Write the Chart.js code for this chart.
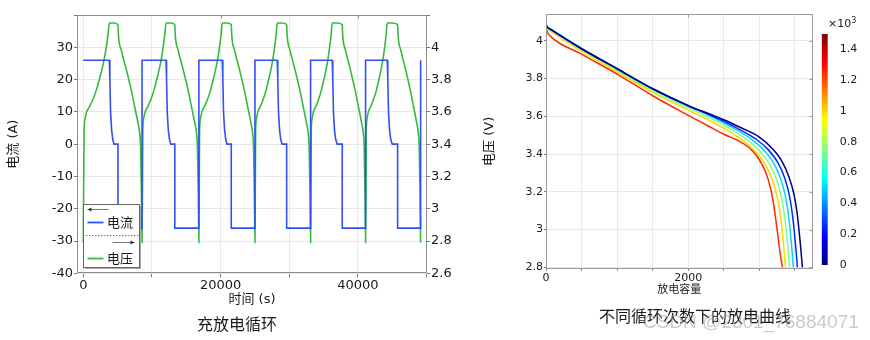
<!DOCTYPE html>
<html>
<head>
<meta charset="utf-8">
<script src="https://cdn.jsdelivr.net/npm/chart.js@4.4.1/dist/chart.umd.min.js"></script>
<style>
  body { margin: 0; width: 870px; height: 340px; background: #fff; position: relative; overflow: hidden; }
  canvas { position: absolute; top: 0; }
  #cycleChart { left: 0; }
  #dischargeChart { left: 440px; }
  #colorBar { left: 815px; }
  .caption { position: absolute; font-family: 'Noto Sans CJK SC', sans-serif; font-size: 16px; line-height: 16px;
             color: #1a1a1a; transform: translate(-50%, -50%); white-space: nowrap; }
  #cbUnit { position: absolute; left: 828px; top: 18px; font: 11px/11px 'DejaVu Sans', sans-serif; color: #222; }
  #cbUnit sup { font-size: 8px; vertical-align: 4px; line-height: 0; }
  #mark { position: absolute; left: 643px; top: 311px; font: 19px/22px 'Liberation Sans', sans-serif;
          color: rgba(150, 150, 150, 0.5); white-space: nowrap; }
</style>
</head>
<body>
<canvas id="cycleChart" width="470" height="340"></canvas>
<canvas id="dischargeChart" width="380" height="340"></canvas>
<canvas id="colorBar" width="55" height="300"></canvas>
<div class="caption" style="left:237px; top:323px">充放电循环</div>
<div class="caption" style="left:695px; top:315px">不同循环次数下的放电曲线</div>
<div id="cbUnit">×10<sup>3</sup></div>
<div id="mark">CSDN @2301_76884071</div>

<script>
// ---- charge / discharge cycling: current (A) vs time (s)
const timeA = [0,
  3790, 3870, 3970, 4120, 4290, 4470, 5050, 5050, 8560, 8560,
  12050, 12130, 12230, 12380, 12550, 12730, 13330, 13330, 16840, 16840,
  20250, 20330, 20430, 20580, 20750, 20930, 21560, 21560, 25010, 25010,
  28260, 28340, 28440, 28590, 28760, 28960, 29630, 29630, 33120, 33120,
  36270, 36350, 36450, 36600, 36770, 36980, 37730, 37730, 41130, 41130,
  44290, 44370, 44470, 44620, 44790, 45020, 45800, 45800, 49150, 49150];
const currentA = [26,
  26, 20, 10, 4.5, 1.5, 0, 0, -26, -26, 26,
  26, 20, 10, 4.5, 1.5, 0, 0, -26, -26, 26,
  26, 20, 10, 4.5, 1.5, 0, 0, -26, -26, 26,
  26, 20, 10, 4.5, 1.5, 0, 0, -26, -26, 26,
  26, 20, 10, 4.5, 1.5, 0, 0, -26, -26, 26,
  26, 20, 10, 4.5, 1.5, 0, 0, -26, -26, 26];

// cell voltage (V) vs time (s)
const timeV = [
  0, 110, 230, 490, 870, 1330, 1860, 2390, 2920, 3340, 3600, 3790, 4470, 5050,
  5110, 5550, 6280, 7010, 7490, 7970, 8210, 8350, 8470, 8560,
  8665, 8770, 9015, 9360, 9780, 10270, 10760, 11250, 11630, 11875, 12050, 12730, 13330,
  13390, 13830, 14560, 15290, 15770, 16250, 16490, 16630, 16750, 16840,
  16940, 17045, 17280, 17625, 18035, 18510, 18990, 19465, 19840, 20080, 20250, 20930, 21560,
  21620, 22050, 22770, 23485, 23960, 24430, 24665, 24805, 24920, 25010,
  25110, 25205, 25435, 25760, 26150, 26605, 27060, 27515, 27870, 28100, 28260, 28960, 29630,
  29690, 30125, 30855, 31580, 32055, 32530, 32770, 32910, 33030, 33120,
  33215, 33310, 33530, 33845, 34225, 34665, 35105, 35545, 35890, 36115, 36270, 36980, 37730,
  37790, 38215, 38920, 39630, 40095, 40560, 40790, 40930, 41045, 41130,
  41225, 41320, 41540, 41855, 42235, 42680, 43120, 43565, 43910, 44130, 44290, 45020, 45800,
  45857, 46277, 46973, 47670, 48128, 48586, 48815, 48948, 49063, 49150];
const voltage = [
  2.79, 3.47, 3.55, 3.60, 3.63, 3.67, 3.73, 3.81, 3.90, 4.00, 4.08, 4.15, 4.15, 4.14,
  4.08, 3.98, 3.86, 3.73, 3.63, 3.53, 3.47, 3.38, 3.10, 2.79,
  3.47, 3.55, 3.60, 3.63, 3.67, 3.73, 3.81, 3.90, 4.00, 4.08, 4.15, 4.15, 4.14,
  4.08, 3.98, 3.86, 3.73, 3.63, 3.53, 3.47, 3.38, 3.10, 2.79,
  3.47, 3.55, 3.60, 3.63, 3.67, 3.73, 3.81, 3.90, 4.00, 4.08, 4.15, 4.15, 4.14,
  4.08, 3.98, 3.86, 3.73, 3.63, 3.53, 3.47, 3.38, 3.10, 2.79,
  3.47, 3.55, 3.60, 3.63, 3.67, 3.73, 3.81, 3.90, 4.00, 4.08, 4.15, 4.15, 4.14,
  4.08, 3.98, 3.86, 3.73, 3.63, 3.53, 3.47, 3.38, 3.10, 2.79,
  3.47, 3.55, 3.60, 3.63, 3.67, 3.73, 3.81, 3.90, 4.00, 4.08, 4.15, 4.15, 4.14,
  4.08, 3.98, 3.86, 3.73, 3.63, 3.53, 3.47, 3.38, 3.10, 2.79,
  3.47, 3.55, 3.60, 3.63, 3.67, 3.73, 3.81, 3.90, 4.00, 4.08, 4.15, 4.15, 4.14,
  4.08, 3.98, 3.86, 3.73, 3.63, 3.53, 3.47, 3.38, 3.10, 2.79];

const timeTicks = [0, 10000, 20000, 30000, 40000, 50000];
const currentTicks = [-40, -30, -20, -10, 0, 10, 20, 30, 40];
const voltTicks = [2.6, 2.8, 3.0, 3.2, 3.4, 3.6, 3.8, 4.0, 4.2];

// ---- discharge curves at different cycle counts: voltage vs capacity
const cycleCounts = [0, 250, 500, 750, 1000, 1250];
const cap0 = [0, 20, 60, 500, 1000, 1500, 2000, 2300, 2500, 2750, 3000, 3180, 3320, 3415, 3485, 3530, 3562, 3585, 3605];
const v0 = [4.088, 4.072, 4.062, 3.958, 3.852, 3.746, 3.657, 3.612, 3.582, 3.538, 3.490, 3.430, 3.360, 3.280, 3.190, 3.090, 2.980, 2.890, 2.800];
const cap250 = [0, 20, 60, 500, 1000, 1500, 2000, 2300, 2500, 2700, 2950, 3120, 3260, 3355, 3420, 3463, 3495, 3517, 3535];
const v250 = [4.088, 4.072, 4.062, 3.958, 3.852, 3.746, 3.656, 3.608, 3.574, 3.535, 3.480, 3.425, 3.355, 3.275, 3.185, 3.085, 2.975, 2.885, 2.800];
const cap500 = [0, 20, 60, 500, 1000, 1500, 2000, 2300, 2500, 2650, 2900, 3070, 3205, 3300, 3365, 3408, 3440, 3460, 3478];
const v500 = [4.089, 4.074, 4.064, 3.960, 3.853, 3.746, 3.655, 3.603, 3.566, 3.535, 3.475, 3.418, 3.350, 3.270, 3.180, 3.080, 2.970, 2.885, 2.800];
const cap750 = [0, 20, 60, 500, 1000, 1500, 2000, 2300, 2500, 2620, 2850, 3020, 3150, 3245, 3310, 3355, 3387, 3407, 3425];
const v750 = [4.087, 4.068, 4.058, 3.953, 3.844, 3.737, 3.645, 3.592, 3.554, 3.528, 3.468, 3.410, 3.342, 3.262, 3.172, 3.072, 2.965, 2.880, 2.800];
const cap1000 = [0, 20, 60, 500, 1000, 1500, 2000, 2300, 2500, 2600, 2800, 2970, 3100, 3190, 3255, 3300, 3330, 3350, 3368];
const v1000 = [4.085, 4.062, 4.052, 3.945, 3.836, 3.727, 3.633, 3.578, 3.537, 3.515, 3.462, 3.402, 3.335, 3.255, 3.165, 3.065, 2.960, 2.875, 2.800];
const cap1250 = [0, 23, 56, 500, 1000, 1500, 2000, 2300, 2500, 2700, 2883, 3000, 3093, 3164, 3220, 3257, 3294, 3325];
const v1250 = [4.079, 4.044, 4.026, 3.929, 3.824, 3.709, 3.605, 3.545, 3.505, 3.472, 3.425, 3.370, 3.300, 3.210, 3.085, 2.978, 2.870, 2.800];

const capTicks = [0, 500, 1000, 1500, 2000, 2500, 3000, 3500];
const dischargeVoltTicks = [2.8, 3.0, 3.2, 3.4, 3.6, 3.8, 4.0];
const colorBarTicks = [0, 0.2, 0.4, 0.6, 0.8, 1.0, 1.2, 1.4];   // x10^3 cycles

const FONT = "'DejaVu Sans', 'Noto Sans CJK SC', sans-serif";
const CJK = "'Noto Sans CJK SC', sans-serif";
const GRID = '#e9e9e9';
const TICK = '#777';
const TEXT = '#1a1a1a';

const pts = (xs, ys) => xs.map((x, i) => ({ x, y: ys[i] }));
const fixTicks = list => s => { s.ticks = list.map(v => ({ value: v })); };
const fmt = v => String(Number(v.toFixed(1)));

// jet colormap, v in [0, 1]
function jet(v) {
  const c = k => Math.round(255 * Math.max(0, Math.min(1, 1.5 - Math.abs(4 * v - k))));
  return `rgb(${c(3)},${c(2)},${c(1)})`;
}

// box around the plot area plus a few mirrored ticks
const framePlugin = {
  id: 'frame',
  afterDatasetsDraw(chart, args, opts) {
    const { ctx, chartArea: a, scales } = chart;
    const l = Math.round(a.left) + 0.5, t = Math.round(a.top) + 0.5;
    const r = Math.round(a.right) - 0.5, b = Math.round(a.bottom) - 0.5;
    ctx.save();
    ctx.strokeStyle = opts.color || '#8c8c8c';
    ctx.lineWidth = 1;
    ctx.strokeRect(l, t, r - l, b - t);
    ctx.beginPath();
    (opts.topTicks || []).forEach(v => {
      const x = Math.round(scales.x.getPixelForValue(v)) + 0.5;
      ctx.moveTo(x, t); ctx.lineTo(x, t + 3);
    });
    (opts.rightTicks || []).forEach(v => {
      const y = Math.round(scales.y.getPixelForValue(v)) + 0.5;
      ctx.moveTo(r, y); ctx.lineTo(r - 3, y);
    });
    ctx.stroke();
    ctx.restore();
  }
};

// legend box with axis-direction arrows (left axis: current, right axis: voltage)
const axisLegend = {
  id: 'axisLegend',
  afterDatasetsDraw(chart) {
    const { ctx, chartArea: a } = chart;
    const ds = chart.data.datasets;
    const x = Math.round(a.left + 5.7), y = Math.round(a.bottom - 69.3), w = 56, h = 63;
    ctx.save();
    ctx.fillStyle = '#a8a8a8';
    ctx.fillRect(x + 2, y + 2, w, h);
    ctx.fillStyle = '#fff';
    ctx.fillRect(x, y, w, h);
    ctx.strokeStyle = '#666';
    ctx.lineWidth = 1;
    ctx.strokeRect(x + 0.5, y + 0.5, w, h);

    const arrow = (x1, x2, yy, headLeft) => {
      ctx.strokeStyle = '#777';
      ctx.beginPath(); ctx.moveTo(x1, yy); ctx.lineTo(x2, yy); ctx.stroke();
      ctx.fillStyle = '#333';
      ctx.beginPath();
      if (headLeft) { ctx.moveTo(x1, yy); ctx.lineTo(x1 + 4, yy - 2); ctx.lineTo(x1 + 4, yy + 2); }
      else { ctx.moveTo(x2, yy); ctx.lineTo(x2 - 4, yy - 2); ctx.lineTo(x2 - 4, yy + 2); }
      ctx.fill();
    };
    const entry = (d, yy) => {
      ctx.strokeStyle = d.borderColor;
      ctx.lineWidth = 1.8;
      ctx.beginPath(); ctx.moveTo(x + 4.5, yy); ctx.lineTo(x + 20.5, yy); ctx.stroke();
      ctx.lineWidth = 1;
      ctx.fillStyle = TEXT;
      ctx.font = `13px ${CJK}`;
      ctx.textBaseline = 'middle';
      ctx.fillText(d.label, x + 24, yy - 0.5);
    };

    arrow(x + 4.5, x + 25.5, y + 5.5, true);
    entry(ds[0], y + 18.5);
    ctx.strokeStyle = '#777';
    ctx.setLineDash([1.5, 1.5]);
    ctx.beginPath(); ctx.moveTo(x, y + 31.5); ctx.lineTo(x + w, y + 31.5); ctx.stroke();
    ctx.setLineDash([]);
    arrow(x + 29.5, x + 51.5, y + 38.5, false);
    entry(ds[1], y + 54.5);
    ctx.restore();
  }
};

new Chart(document.getElementById('cycleChart'), {
  type: 'line',
  data: {
    datasets: [{
      label: '电流',
      data: pts(timeA, currentA),
      borderColor: '#2f50f2',
      borderWidth: 1.6,
      pointRadius: 0,
      tension: 0,
      yAxisID: 'y'
    }, {
      label: '电压',
      data: pts(timeV, voltage),
      borderColor: '#34bb3e',
      borderWidth: 1.6,
      pointRadius: 0,
      cubicInterpolationMode: 'monotone',
      yAxisID: 'yV'
    }]
  },
  options: {
    responsive: false,
    animation: false,
    devicePixelRatio: 1,
    layout: { padding: { left: 0, right: 0, top: 15, bottom: 26.7 } },
    plugins: {
      legend: { display: false },
      tooltip: { enabled: false },
      frame: { topTicks: [20000, 40000] }
    },
    scales: {
      x: {
        type: 'linear',
        min: -920,
        max: 50080,
        afterBuildTicks: fixTicks(timeTicks),
        afterFit: s => { s.height = 40; },
        grid: { color: GRID, tickColor: TICK, tickLength: 4 },
        border: { display: false },
        ticks: {
          autoSkip: false, maxRotation: 0, padding: 1, color: TEXT,
          font: { family: FONT, size: 13 },
          callback: v => (v % 20000 === 0 ? String(v) : '')
        },
        title: { display: true, text: '时间 (s)', color: TEXT, font: { family: FONT, size: 13 },
                 padding: { top: 0, bottom: 6 } }
      },
      y: {
        position: 'left',
        min: -40,
        max: 40,
        afterBuildTicks: fixTicks(currentTicks),
        afterFit: s => { s.width = 77; },
        grid: { color: GRID, tickColor: TICK, tickLength: 3 },
        border: { display: false },
        ticks: {
          autoSkip: false, padding: 1, color: TEXT,
          font: { family: FONT, size: 13 },
          callback: v => (v === 40 ? '' : String(v))
        },
        title: { display: true, text: '电流 (A)', color: TEXT, font: { family: FONT, size: 13 },
                 padding: { top: 6, bottom: 0 } }
      },
      yV: {
        position: 'right',
        min: 2.6,
        max: 4.2,
        afterBuildTicks: fixTicks(voltTicks),
        afterFit: s => { s.width = 43; },
        grid: { drawOnChartArea: false, tickColor: TICK, tickLength: 3 },
        border: { display: false },
        ticks: {
          autoSkip: false, padding: 1, color: TEXT,
          font: { family: FONT, size: 13 },
          callback: v => (v > 4.1 ? '' : fmt(v))
        }
      }
    }
  },
  plugins: [framePlugin, axisLegend]
});

const capSeries = [cap0, cap250, cap500, cap750, cap1000, cap1250];
const voltSeries = [v0, v250, v500, v750, v1000, v1250];

new Chart(document.getElementById('dischargeChart'), {
  type: 'line',
  data: {
    datasets: cycleCounts.map((n, i) => ({
      label: String(n),
      data: pts(capSeries[i], voltSeries[i]),
      borderColor: jet(n / 1500),
      borderWidth: 1.5,
      pointRadius: 0,
      cubicInterpolationMode: 'monotone'
    }))
  },
  options: {
    responsive: false,
    animation: false,
    devicePixelRatio: 1,
    layout: { padding: { left: 30, right: 7.3, top: 14, bottom: 41.3 } },
    plugins: {
      legend: { display: false },
      tooltip: { enabled: false },
      frame: { color: '#9a9a9a', topTicks: [2000], rightTicks: dischargeVoltTicks }
    },
    scales: {
      x: {
        type: 'linear',
        min: 0,
        max: 3750,
        afterBuildTicks: fixTicks(capTicks),
        afterFit: s => { s.height = 30; },
        grid: { color: GRID, tickColor: TICK, tickLength: 2 },
        border: { display: false },
        ticks: {
          autoSkip: false, maxRotation: 0, padding: 1, color: TEXT,
          font: { family: FONT, size: 11 },
          callback: v => (v % 2000 === 0 ? String(v) : '')
        },
        title: { display: true, text: '放电容量', color: TEXT, font: { family: CJK, size: 11 },
                 padding: { top: 0, bottom: 3.4 } }
      },
      y: {
        min: 2.793,
        max: 4.142,
        afterBuildTicks: fixTicks(dischargeVoltTicks),
        afterFit: s => { s.width = 76; },
        grid: { color: GRID, tickColor: TICK, tickLength: 2 },
        border: { display: false },
        ticks: {
          autoSkip: false, padding: 1, color: TEXT,
          font: { family: FONT, size: 11 },
          callback: v => fmt(v)
        },
        title: { display: true, text: '电压 (V)', color: TEXT, font: { family: FONT, size: 13 },
                 padding: { top: 12, bottom: 0 } }
      }
    }
  },
  plugins: [framePlugin]
});

// colour scale for the cycle count
const jetStops = [[0, '#00007f'], [0.125, '#0000ff'], [0.375, '#00ffff'],
                  [0.625, '#ffff00'], [0.875, '#ff0000'], [1, '#7f0000']];

new Chart(document.getElementById('colorBar'), {
  type: 'bar',
  data: {
    labels: [''],
    datasets: [{
      data: [[0, 1.5]],
      borderWidth: 0,
      barPercentage: 1,
      categoryPercentage: 1,
      backgroundColor: c => {
        const a = c.chart.chartArea;
        if (!a) return '#00007f';
        const g = c.chart.ctx.createLinearGradient(0, a.bottom, 0, a.top);
        jetStops.forEach(([p, col]) => g.addColorStop(p, col));
        return g;
      }
    }]
  },
  options: {
    responsive: false,
    animation: false,
    devicePixelRatio: 1,
    layout: { padding: { left: 6.7, right: 0, top: 34, bottom: 35 } },
    plugins: { legend: { display: false }, tooltip: { enabled: false } },
    scales: {
      x: { display: false },
      y: {
        position: 'right',
        min: 0,
        max: 1.5,
        afterBuildTicks: fixTicks(colorBarTicks),
        afterFit: s => { s.width = 42.3; },
        grid: { display: false },
        border: { display: false },
        ticks: { autoSkip: false, padding: 4, color: TEXT, font: { family: FONT, size: 11 }, callback: v => fmt(v) }
      }
    }
  }
});
</script>
</body>
</html>
